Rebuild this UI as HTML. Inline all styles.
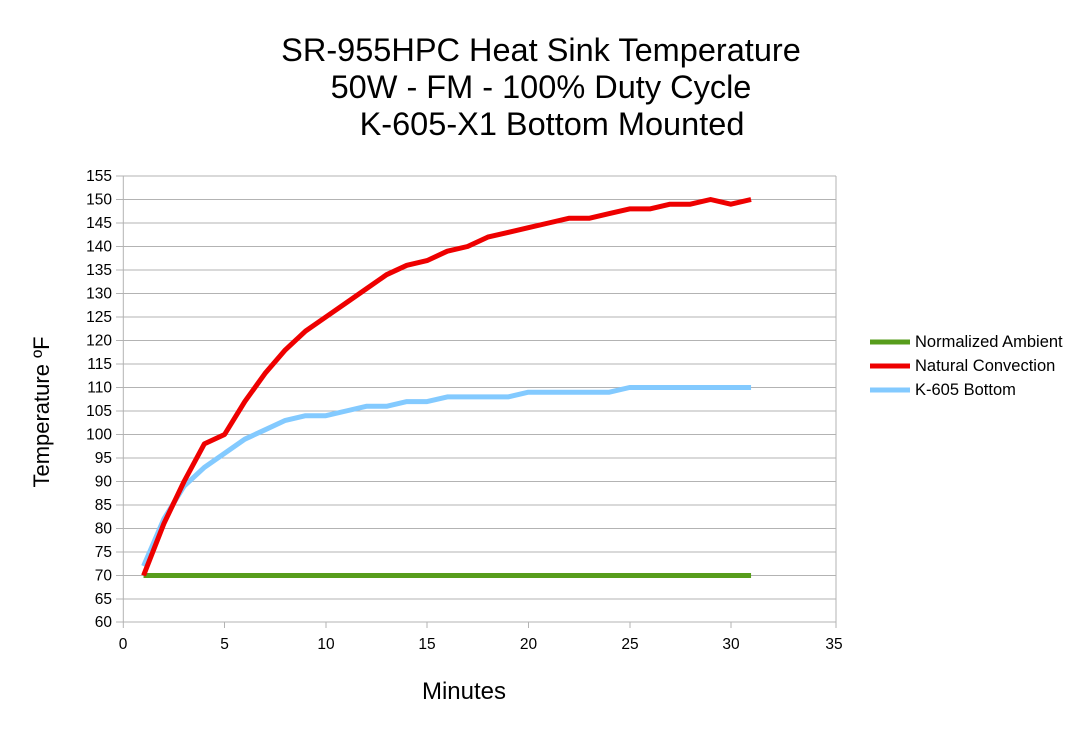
<!DOCTYPE html>
<html><head><meta charset="utf-8"><style>
body{margin:0;background:#fff}
svg{font-family:"Liberation Sans",sans-serif}
</style></head><body>
<svg width="1084" height="734" viewBox="0 0 1084 734" xmlns="http://www.w3.org/2000/svg">
<rect width="1084" height="734" fill="#fff"/>
<g font-size="32.5" text-anchor="middle" fill="#000">
<text x="541" y="61">SR-955HPC Heat Sink Temperature</text>
<text x="541" y="98">50W - FM - 100% Duty Cycle</text>
<text x="552" y="135">K-605-X1 Bottom Mounted</text>
</g>
<g stroke="#b3b3b3" stroke-width="1">
<line x1="116" y1="176" x2="836" y2="176"/><line x1="116" y1="199.5" x2="836" y2="199.5"/><line x1="116" y1="223" x2="836" y2="223"/><line x1="116" y1="246.5" x2="836" y2="246.5"/><line x1="116" y1="270" x2="836" y2="270"/><line x1="116" y1="293.5" x2="836" y2="293.5"/><line x1="116" y1="317" x2="836" y2="317"/><line x1="116" y1="340.5" x2="836" y2="340.5"/><line x1="116" y1="364" x2="836" y2="364"/><line x1="116" y1="387.5" x2="836" y2="387.5"/><line x1="116" y1="411" x2="836" y2="411"/><line x1="116" y1="434.5" x2="836" y2="434.5"/><line x1="116" y1="458" x2="836" y2="458"/><line x1="116" y1="481.5" x2="836" y2="481.5"/><line x1="116" y1="505" x2="836" y2="505"/><line x1="116" y1="528.5" x2="836" y2="528.5"/><line x1="116" y1="552" x2="836" y2="552"/><line x1="116" y1="575.5" x2="836" y2="575.5"/><line x1="116" y1="599" x2="836" y2="599"/><line x1="116" y1="622" x2="836" y2="622"/>
<line x1="123.3" y1="176" x2="123.3" y2="628"/><line x1="836" y1="176" x2="836" y2="628"/>
<line x1="224.5" y1="622" x2="224.5" y2="628"/><line x1="326" y1="622" x2="326" y2="628"/><line x1="427" y1="622" x2="427" y2="628"/><line x1="528.5" y1="622" x2="528.5" y2="628"/><line x1="630" y1="622" x2="630" y2="628"/><line x1="731" y1="622" x2="731" y2="628"/>
</g>
<g font-size="15.5" text-anchor="end" fill="#000">
<text x="112" y="181">155</text><text x="112" y="204.5">150</text><text x="112" y="228">145</text><text x="112" y="251.5">140</text><text x="112" y="275">135</text><text x="112" y="298.5">130</text><text x="112" y="322">125</text><text x="112" y="345.5">120</text><text x="112" y="369">115</text><text x="112" y="392.5">110</text><text x="112" y="416">105</text><text x="112" y="439.5">100</text><text x="112" y="463">95</text><text x="112" y="486.5">90</text><text x="112" y="510">85</text><text x="112" y="533.5">80</text><text x="112" y="557">75</text><text x="112" y="580.5">70</text><text x="112" y="604">65</text><text x="112" y="627">60</text>
</g>
<g font-size="15.5" text-anchor="middle" fill="#000">
<text x="123" y="649">0</text><text x="224.5" y="649">5</text><text x="326" y="649">10</text><text x="427" y="649">15</text><text x="528.5" y="649">20</text><text x="630" y="649">25</text><text x="731" y="649">30</text><text x="834" y="649">35</text>
</g>
<text x="464" y="699" font-size="24" text-anchor="middle">Minutes</text>
<text transform="translate(49 412) rotate(-90)" font-size="22" text-anchor="middle">Temperature ºF</text>
<g transform="matrix(20.25 0 0 -4.7 123.3 904.5)" fill="none" stroke-linejoin="round">
<polyline vector-effect="non-scaling-stroke" stroke="#579d1c" stroke-width="5" points="1,70 31,70"/>
<polyline vector-effect="non-scaling-stroke" stroke="#83caff" stroke-width="5" points="1,72 2,82 3,89 4,93 5,96 6,99 7,101 8,103 9,104 10,104 11,105 12,106 13,106 14,107 15,107 16,108 17,108 18,108 19,108 20,109 21,109 22,109 23,109 24,109 25,110 26,110 27,110 28,110 29,110 30,110 31,110"/>
<polyline vector-effect="non-scaling-stroke" stroke="#ee0000" stroke-width="5" points="1,70 2,81 3,90 4,98 5,100 6,107 7,113 8,118 9,122 10,125 11,128 12,131 13,134 14,136 15,137 16,139 17,140 18,142 19,143 20,144 21,145 22,146 23,146 24,147 25,148 26,148 27,149 28,149 29,150 30,149 31,150"/>
</g>
<g stroke-width="5">
<line x1="870" y1="342" x2="910" y2="342" stroke="#579d1c"/>
<line x1="870" y1="366" x2="910" y2="366" stroke="#ee0000"/>
<line x1="870" y1="390" x2="910" y2="390" stroke="#83caff"/>
</g>
<g font-size="16.5" fill="#000">
<text x="915" y="347">Normalized Ambient</text>
<text x="915" y="371">Natural Convection</text>
<text x="915" y="395">K-605 Bottom</text>
</g>
</svg>
</body></html>
